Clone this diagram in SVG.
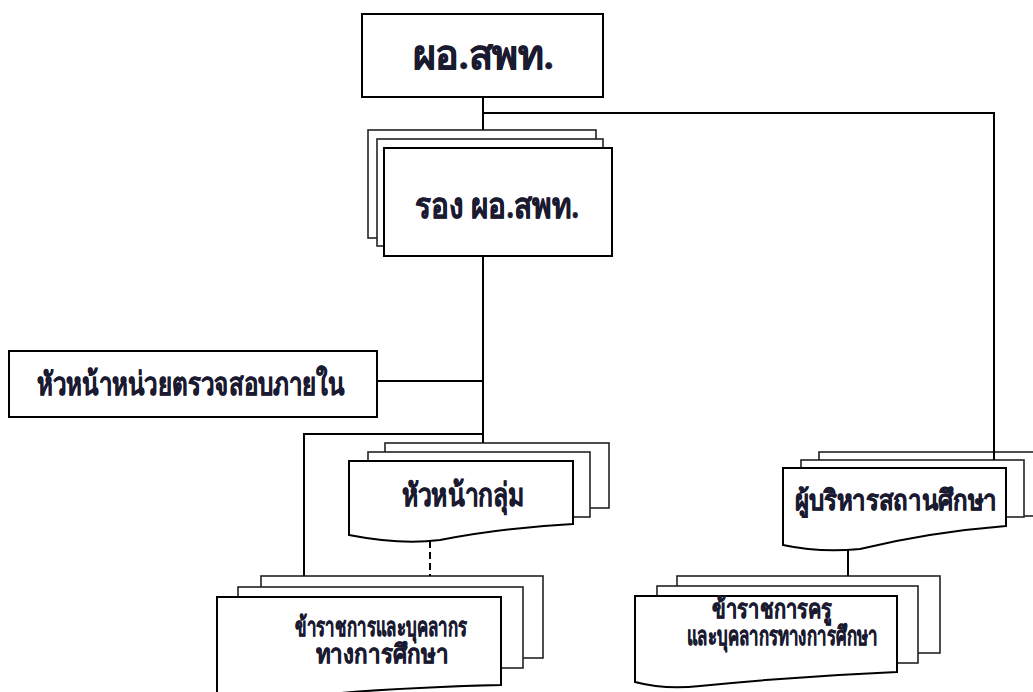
<svg xmlns="http://www.w3.org/2000/svg" width="1033" height="692" viewBox="0 0 1033 692">
<style>
.box{fill:#fff;stroke:#000;stroke-width:2}
.back{fill:#fff;stroke:#222;stroke-width:1.6}
.t{font-family:"Liberation Serif","DejaVu Serif",serif;font-weight:bold;fill:#1a1a30;stroke:#1a1a30;stroke-width:0.5;text-anchor:middle}
.c{fill:none;stroke:#000;stroke-width:2}
</style>
<rect width="1033" height="692" fill="#fff"/>
<g id="n-director">
<rect class="box" x="362" y="14" width="241" height="83"/>
<text class="t" x="483" y="69" font-size="40" textLength="141" lengthAdjust="spacingAndGlyphs">ผอ.สพท.</text>
</g>
<g id="n-deputy">
<rect class="back" x="368" y="130" width="228" height="108"/>
<rect class="back" x="377" y="139" width="226" height="107"/>
<rect class="box" x="384" y="148" width="228" height="108"/>
<text class="t" x="497" y="218" font-size="36" textLength="164" lengthAdjust="spacingAndGlyphs">รอง ผอ.สพท.</text>
</g>
<g id="n-audit">
<rect class="box" x="9" y="351" width="368" height="66"/>
<text class="t" x="191" y="395" font-size="32" textLength="308" lengthAdjust="spacingAndGlyphs">หัวหน้าหน่วยตรวจสอบภายใน</text>
</g>
<g id="n-grouphead">
<rect class="back" x="385" y="443" width="224" height="65"/>
<rect class="back" x="368" y="452" width="222" height="65"/>
<path class="box" d="M349,461 H573 V524 Q500,528 440,540 Q400,545 349,535 Z"/>
<text class="t" x="463" y="506" font-size="32" textLength="123" lengthAdjust="spacingAndGlyphs">หัวหน้ากลุ่ม</text>
</g>
<g id="n-staff">
<rect class="back" x="261" y="576" width="282" height="82"/>
<rect class="back" x="238" y="587" width="285" height="81"/>
<path class="box" d="M217,597 H501 V685 Q380,688 300,697 Q260,700 217,693 Z"/>
<text class="t" x="381" y="636" font-size="26" textLength="172" lengthAdjust="spacingAndGlyphs">ข้าราชการและบุคลากร</text>
<text class="t" x="382" y="663" font-size="26" textLength="133" lengthAdjust="spacingAndGlyphs">ทางการศึกษา</text>
</g>
<g id="n-schooladmin">
<rect class="back" x="819" y="452" width="250" height="64"/>
<rect class="back" x="801" y="460" width="223" height="57"/>
<path class="box" d="M783,468 H1006 V526 Q930,532 860,549 Q820,553 783,545 Z"/>
<text class="t" x="896" y="510" font-size="28" textLength="202" lengthAdjust="spacingAndGlyphs">ผู้บริหารสถานศึกษา</text>
</g>
<g id="n-teachers">
<rect class="back" x="677" y="576" width="263" height="77"/>
<rect class="back" x="657" y="586" width="261" height="77"/>
<path class="box" d="M635,596 H897 V672 Q800,676 700,686 Q665,690 635,682 Z"/>
<text class="t" x="772" y="618" font-size="26" textLength="120" lengthAdjust="spacingAndGlyphs">ข้าราชการครู</text>
<text class="t" x="782" y="645" font-size="26" textLength="191" lengthAdjust="spacingAndGlyphs">และบุคลากรทางการศึกษา</text>
</g>
<g id="connectors">
<path class="c" d="M483,97 V130"/>
<path class="c" d="M483,113 H994 V460"/>
<path class="c" d="M483,256 V443"/>
<path class="c" d="M377,381 H483"/>
<path class="c" d="M483,434 H304 V576"/>
<path class="c" d="M430,541 V576" stroke-width="3.5" stroke-dasharray="7,4"/>
<path class="c" d="M848,550 V576"/>
</g>
</svg>
